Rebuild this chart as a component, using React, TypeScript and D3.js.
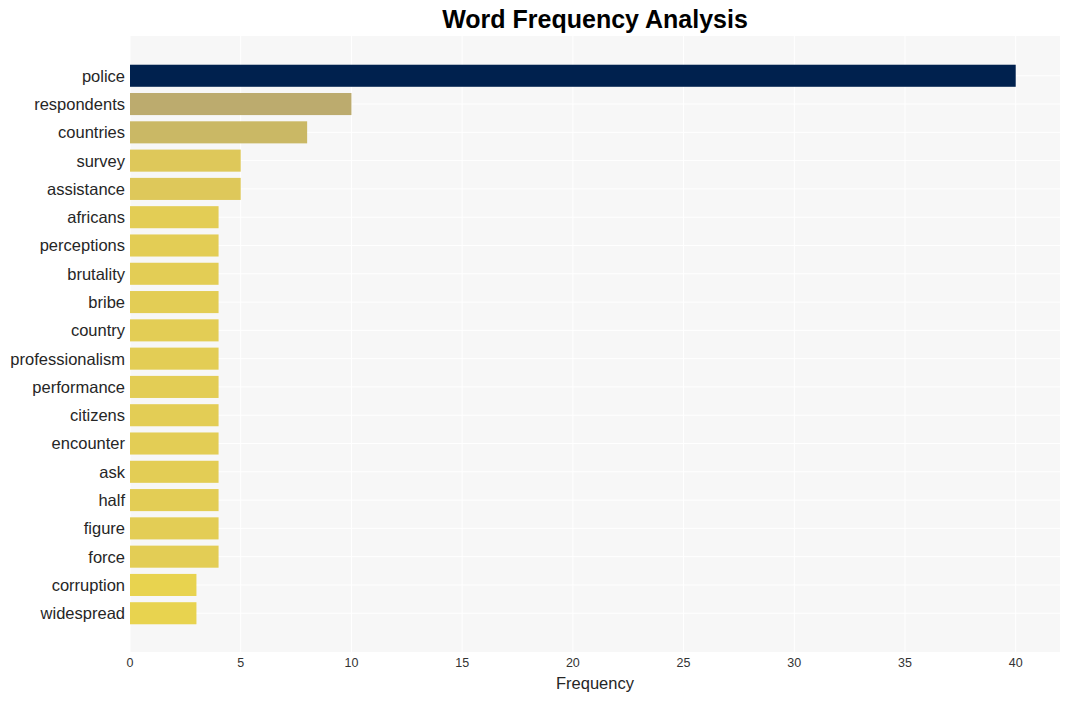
import React from "react";
import * as d3 from "d3";

const words = ["police","respondents","countries","survey","assistance","africans","perceptions","brutality","bribe","country","professionalism","performance","citizens","encounter","ask","half","figure","force","corruption","widespread"];
const counts = [40,10,8,5,5,4,4,4,4,4,4,4,4,4,4,4,4,4,3,3];
const xTicks = [0,5,10,15,20,25,30,35,40];
const colorByValue: Record<number,string> = {40:"#00214e",10:"#bcab6e",8:"#cab865",5:"#dec85a",4:"#e3cd55",3:"#e8d34f"};

const W = 1070, H = 701;
const L = 130, R = 1060, T = 36, B = 652;

export default function App() {
  const x = d3.scaleLinear().domain([0, 42]).range([L, R]);
  const y = d3.scaleBand<string>().domain(words).range([T + 1, B]).paddingInner(0.22).paddingOuter(0.98);
  const bw = y.bandwidth();
  return (
    <svg width={W} height={H} style={{position:"absolute",left:0,top:0,fontFamily:"'Liberation Sans', Arial, sans-serif"}}>
      <rect x={0} y={0} width={W} height={H} fill="#ffffff" />
      <rect x={L} y={T} width={R - L} height={B - T} fill="#f7f7f7" />
      {xTicks.map(t => (
        <line key={"gx"+t} x1={x(t)} x2={x(t)} y1={T} y2={B} stroke="#ffffff" strokeWidth={1} />
      ))}
      {words.map(w => (
        <line key={"gy"+w} x1={L} x2={R} y1={(y(w) as number) + bw/2} y2={(y(w) as number) + bw/2} stroke="#ffffff" strokeWidth={1} />
      ))}
      {words.map((w, i) => (
        <rect key={"b"+w} x={x(0)} y={y(w)} width={x(counts[i]) - x(0)} height={bw} fill={colorByValue[counts[i]]} />
      ))}
      {words.map(w => (
        <text key={"l"+w} x={L - 5} y={(y(w) as number) + bw/2} dy="0.36em" textAnchor="end" fontSize={16.5} fill="#262626">{w}</text>
      ))}
      {xTicks.map(t => (
        <text key={"tx"+t} x={x(t)} y={667} textAnchor="middle" fontSize={12.5} fill="#333333">{t}</text>
      ))}
      <text x={(L + R) / 2} y={689} textAnchor="middle" fontSize={16.5} fill="#262626">Frequency</text>
      <text x={(L + R) / 2} y={28} textAnchor="middle" fontSize={25} fontWeight="bold" fill="#000000">Word Frequency Analysis</text>
    </svg>
  );
}
